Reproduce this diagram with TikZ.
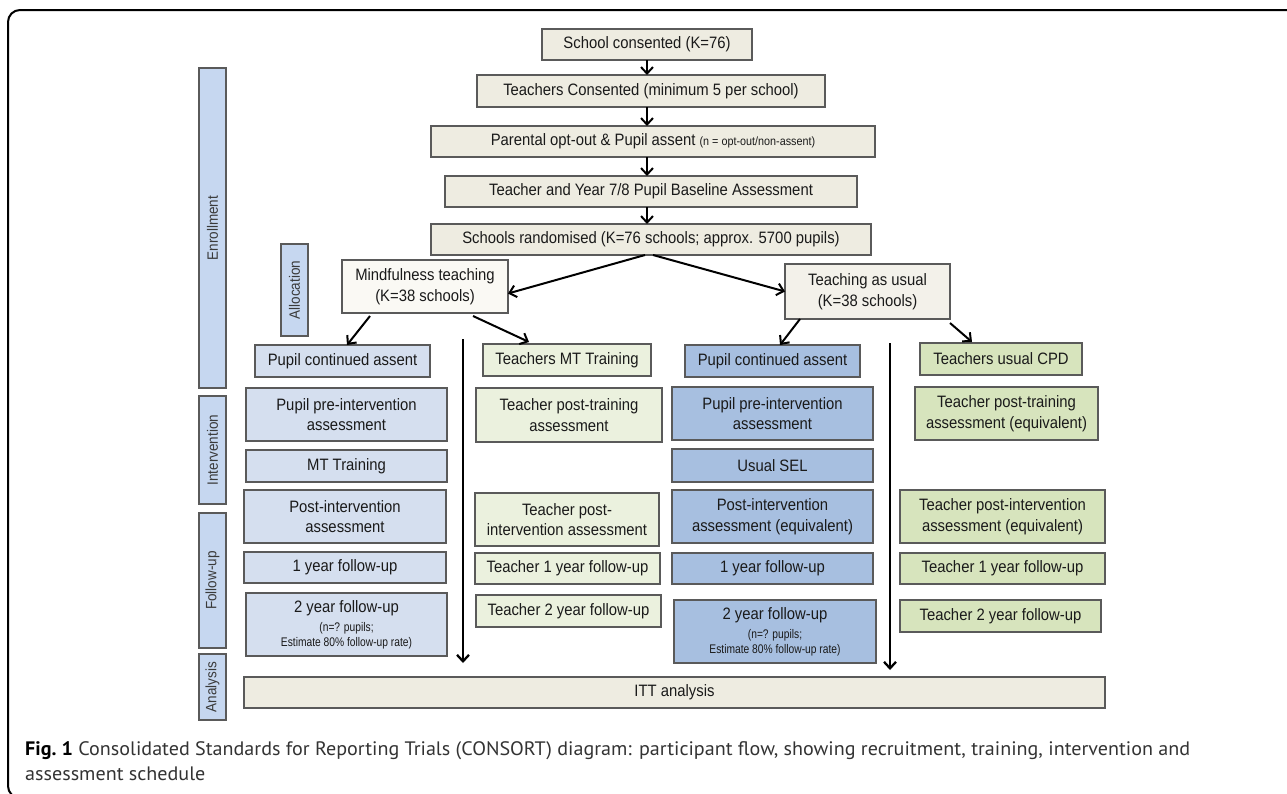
\documentclass[tikz,border=0pt]{standalone}
\usepackage{fontspec}
\setmainfont{Liberation Sans}[FakeStretch=0.9]
\newfontfamily\narrowfont{Liberation Sans}[FakeStretch=0.82]
\newfontfamily\capfont{PT Sans}
\usetikzlibrary{arrows.meta}
\definecolor{beige}{HTML}{EEECE1}
\definecolor{mindfill}{HTML}{FAF9F4}
\definecolor{taufill}{HTML}{F3F1EA}
\definecolor{labblue}{HTML}{C6D7F0}
\definecolor{pupilL}{HTML}{D5DFEF}
\definecolor{pupilR}{HTML}{A7BFE0}
\definecolor{greenL}{HTML}{EBF1DE}
\definecolor{greenR}{HTML}{D7E4BD}
\definecolor{bordergray}{HTML}{5A5A5A}
\definecolor{textcol}{HTML}{1A1A1A}
\definecolor{labtext}{HTML}{3A3A3A}
\definecolor{captext}{HTML}{333333}
\newsavebox\mycapA
\newsavebox\mycapB
\newlength\mycaplen
\newcommand\smallfnt{\narrowfont\fontsize{12.5}{14}\selectfont}
\newcommand\mybox[7]{%
  \pgfmathsetmacro\mybw{#4-#2}\pgfmathsetmacro\mybh{#5-#3}%
  \node[#6, minimum width=\mybw pt, minimum height=\mybh pt] (#1) at ({(#2+#4)/2},{(#3+#5)/2}) {#7};}
\newcommand\mylab[6]{%
  \pgfmathsetmacro\mylw{#4-#2}\pgfmathsetmacro\mylh{#5-#3}%
  \node[lab, rotate=90, minimum width=\mylh pt, minimum height=\mylw pt] (#1) at ({(#2+#4)/2},{(#3+#5)/2}) {#6};}
\tikzset{
  base/.style={draw=bordergray, line width=1.1pt, inner sep=0pt, outer sep=0pt, align=center, text=textcol, font=\fontsize{16.5}{20.5}\selectfont},
  top/.style={base, fill=beige},
  mindsty/.style={base, fill=mindfill},
  tausty/.style={base, fill=taufill},
  lab/.style={base, fill=labblue, text=labtext, font=\fontsize{15}{17}\selectfont},
  pupL/.style={base, fill=pupilL},
  pupR/.style={base, fill=pupilR},
  tchL/.style={base, fill=greenL},
  tchR/.style={base, fill=greenR},
  arr/.style={line width=2pt, -{Straight Barb[length=6.5pt,width=12pt]}},
  varr/.style={line width=2.3pt, -{Straight Barb[length=6.5pt,width=12pt]}},
}
\begin{document}
\sbox\mycapA{\capfont\fontsize{19.5}{24}\selectfont\textbf{Fig.~1}\ \textcolor{captext}{Consolidated Standards for Reporting Trials (CONSORT) diagram: participant flow, showing recruitment, training, intervention and}}%
\sbox\mycapB{\capfont\fontsize{19.5}{24}\selectfont\textcolor{captext}{assessment schedule}}%
\setlength\mycaplen{\wd\mycapA}%
\pgfmathsetmacro\mycapscale{1165/\mycaplen}%
\begin{tikzpicture}[x=1pt,y=-1pt]
\useasboundingbox (0,0) rectangle (1287,793);
\clip (0,0) rectangle (1287,793);
% frame
\draw[line width=2pt, rounded corners=12pt] (1300,10) -- (8,10) -- (8,798) -- (40,798);

% top chain
\mybox{b1}{542}{29}{752}{60}{top}{School consented (K=76)}
\mybox{b2}{477}{75}{825}{107}{top}{Teachers Consented (minimum 5 per school)}
\mybox{b3}{431}{126}{875}{157}{top}{Parental opt-out \& Pupil assent {\fontsize{12}{14}\selectfont(n = opt-out/non-assent)}}
\mybox{b4}{445}{176}{857}{207}{top}{Teacher and Year 7/8 Pupil Baseline Assessment}
\mybox{b5}{431}{224}{871}{255}{top}{Schools randomised (K=76 schools; approx. 5700 pupils)}
\mybox{mind}{342}{260}{508}{313}{mindsty}{Mindfulness teaching\\(K=38 schools)}
\mybox{tau}{785}{264}{950}{319}{tausty}{Teaching as usual\\(K=38 schools)}

% phase labels
\mylab{enr}{199}{68}{226}{388}{Enrollment}
\mylab{alloc}{281}{244}{308}{336}{Allocation}
\mylab{interv}{199}{396}{226}{504}{Intervention}
\mylab{fup}{199}{513}{226}{648}{Follow-up}
\mylab{anal}{199}{654}{226}{720}{Analysis}

% left pupils
\mybox{pcaL}{255}{345}{430}{377}{pupL}{Pupil continued assent}
\mybox{preL}{246}{388}{447}{441}{pupL}{Pupil pre-intervention\\assessment}
\mybox{mtL}{246}{450}{447}{482}{pupL}{MT Training}
\mybox{postL}{244}{490}{446}{543}{pupL}{Post-intervention\\assessment}
\mybox{fuoneL}{244}{552}{446}{583}{pupL}{1 year follow-up}
\mybox{futwoL}{246}{593}{447}{656}{pupL}{2 year follow-up\\[-1.5pt]{\smallfnt (n=? pupils;}\\[-5.5pt]{\smallfnt Estimate 80\% follow-up rate)}}

% left teachers
\mybox{mtT}{483}{344}{651}{376}{tchL}{Teachers MT Training}
\mybox{ptT}{476}{388}{662}{442}{tchL}{Teacher post-training\\assessment}
\mybox{piT}{475}{493}{659}{546}{tchL}{Teacher post-\\intervention assessment}
\mybox{toneL}{475}{553}{660}{584}{tchL}{Teacher 1 year follow-up}
\mybox{ttwoL}{476}{595}{661}{627}{tchL}{Teacher 2 year follow-up}

% right pupils
\mybox{pcaR}{685}{345}{860}{377}{pupR}{Pupil continued assent}
\mybox{preR}{672}{387}{873}{440}{pupR}{Pupil pre-intervention\\assessment}
\mybox{selR}{672}{449}{873}{482}{pupR}{Usual SEL}
\mybox{postR}{672}{490}{873}{543}{pupR}{Post-intervention\\assessment (equivalent)}
\mybox{fuoneR}{672}{553}{873}{584}{pupR}{1 year follow-up}
\mybox{futwoR}{674}{600}{876}{663}{pupR}{2 year follow-up\\[-1.5pt]{\smallfnt (n=? pupils;}\\[-5.5pt]{\smallfnt Estimate 80\% follow-up rate)}}

% right teachers
\mybox{cpd}{920}{343}{1082}{375}{tchR}{Teachers usual CPD}
\mybox{ptR}{915}{387}{1098}{440}{tchR}{Teacher post-training\\assessment (equivalent)}
\mybox{piR}{900}{490}{1105}{543}{tchR}{Teacher post-intervention\\assessment (equivalent)}
\mybox{toneR}{900}{553}{1105}{584}{tchR}{Teacher 1 year follow-up}
\mybox{ttwoR}{900}{600}{1101}{632}{tchR}{Teacher 2 year follow-up}

% analysis
\mybox{itt}{244}{677}{1105}{708}{top}{ITT analysis}

% arrows
\draw[arr] (b1.south) -- (b1.south |- b2.north);
\draw[arr] (b1.south |- b2.south) -- (b1.south |- b3.north);
\draw[arr] (b1.south |- b3.south) -- (b1.south |- b4.north);
\draw[arr] (b1.south |- b4.south) -- (b1.south |- b5.north);
\draw[arr] ([xshift=-6pt]b5.south) -- ([yshift=-7pt]mind.east);
\draw[arr] ([xshift=2pt]b5.south) -- (tau.west);
\draw[arr] ([xshift=-55pt,yshift=-3pt]mind.south) -- ([xshift=4.5pt]pcaL.north);
\draw[arr] ([xshift=48pt,yshift=-3pt]mind.south) -- ([xshift=-38pt,yshift=2pt]mtT.north);
\draw[arr] ([xshift=-67.5pt]tau.south) -- ([xshift=7.5pt]pcaR.north);
\draw[arr] ([yshift=-4pt]tau.south east) -- ([xshift=-29pt,yshift=1pt]cpd.north);
\coordinate (vlt) at (463,339);
\coordinate (vlb) at (463,663);
\coordinate (vrt) at (890,343);
\coordinate (vrb) at (890,670);
\draw[varr] (vlt) -- (vlb);
\draw[varr] (vrt) -- (vrb);

% caption
\node[anchor=base west, inner sep=0pt] (capone) at (25,755) {\scalebox{\mycapscale}[1]{\usebox\mycapA}};
\node[anchor=base west, inner sep=0pt] (captwo) at (25,780) {\scalebox{\mycapscale}[1]{\usebox\mycapB}};
\end{tikzpicture}
\end{document}
